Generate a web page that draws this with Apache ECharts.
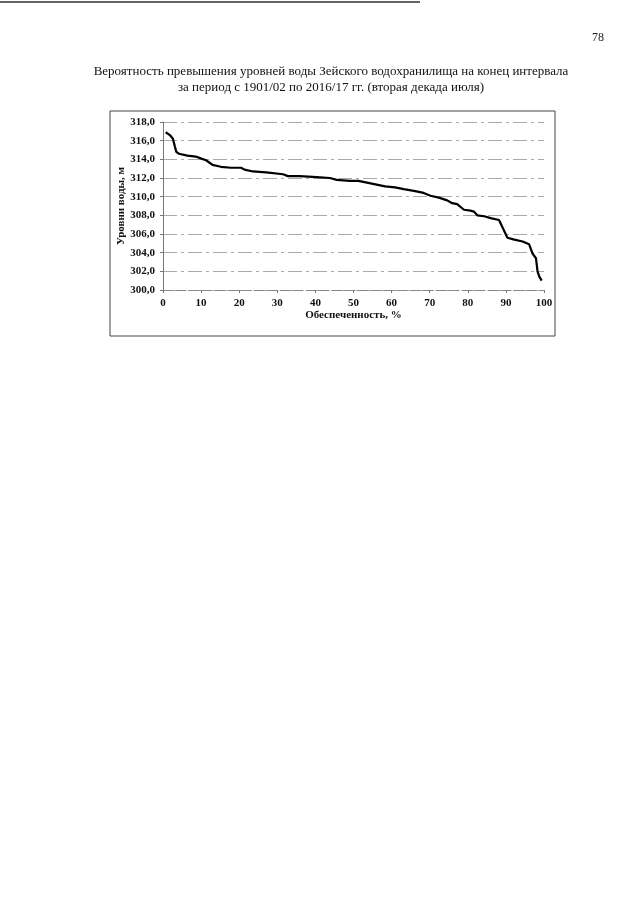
<!DOCTYPE html>
<html>
<head>
<meta charset="utf-8">
<script src="https://cdn.jsdelivr.net/npm/echarts@6/dist/echarts.min.js"></script>
<style>
  html, body {margin: 0; padding: 0; background: #fff;}
  #chart {width: 640px; height: 905px;}
</style>
</head>
<body>
<div id="chart"></div>
<script>
// обеспеченность, % и уровни воды, м
const probability = [0.7, 1.8, 2.6, 3.1, 3.5, 4.2, 6.4, 8.6, 9.9, 11.3, 13.0, 15.2, 17.8, 20.5, 21.4, 23.6,
  27.1, 31.5, 32.8, 35.9, 40.3, 43.8, 45.6, 49.1, 51.3, 54.8, 58.3, 60.9, 63.2, 66.2, 68.4, 70.2,
  72.4, 74.6, 75.9, 77.2, 79.0, 80.7, 81.6, 82.5, 84.3, 86.0, 88.2, 89.0, 90.4, 92.2, 94.4, 96.1,
  97.0, 97.9, 98.3, 98.8, 99.4];
const levels = [316.9, 316.6, 316.2, 315.4, 314.8, 314.6, 314.4, 314.3, 314.1, 313.9, 313.4, 313.2, 313.1, 313.1, 312.9, 312.7,
  312.6, 312.4, 312.2, 312.2, 312.1, 312.0, 311.8, 311.7, 311.7, 311.4, 311.1, 311.0, 310.8, 310.6, 310.4, 310.1,
  309.9, 309.6, 309.3, 309.2, 308.6, 308.5, 308.4, 308.0, 307.9, 307.7, 307.5, 306.8, 305.6, 305.4, 305.2, 304.9,
  303.9, 303.4, 302.0, 301.4, 301.0];
const titleLines = [
  'Вероятность превышения уровней воды Зейского водохранилища на конец интервала',
  'за период с 1901/02 по 2016/17 гг. (вторая декада июля)'
];

const serif = '"Liberation Serif", "DejaVu Serif", serif';
const myChart = echarts.init(document.getElementById('chart'));

myChart.setOption({
  backgroundColor: '#fff',
  animation: false,
  graphic: [
    {type: 'line', shape: {x1: 0, y1: 2, x2: 420, y2: 2}, style: {stroke: '#333', lineWidth: 1.5}},
    {type: 'text', left: 592, top: 32, style: {text: '78', font: '12px ' + serif, fill: '#222'}},
    {type: 'text', x: 331, y: 72, style: {text: titleLines[0], font: '13px ' + serif, fill: '#111',
      align: 'center', verticalAlign: 'middle'}},
    {type: 'text', x: 331, y: 88, style: {text: titleLines[1], font: '13px ' + serif, fill: '#111',
      align: 'center', verticalAlign: 'middle'}},
    {type: 'rect', shape: {x: 110, y: 111, width: 445, height: 225},
      style: {fill: 'none', stroke: '#444', lineWidth: 1}}
  ],
  grid: {left: 163, right: 96, top: 122, bottom: 615},
  xAxis: {
    type: 'value', min: 0, max: 100, interval: 10,
    name: 'Обеспеченность, %', nameLocation: 'middle', nameGap: 20, nameMoveOverlap: false,
    nameTextStyle: {fontFamily: serif, fontWeight: 'bold', fontSize: 11, color: '#111'},
    axisLine: {lineStyle: {color: '#888', type: [10, 3]}},
    axisTick: {show: true, length: 3, lineStyle: {color: '#777'}},
    axisLabel: {fontFamily: serif, fontWeight: 'bold', fontSize: 11, color: '#111', margin: 8},
    splitLine: {show: false}
  },
  yAxis: {
    type: 'value', min: 300, max: 318, interval: 2,
    name: 'Уровни воды, м', nameLocation: 'middle', nameGap: 36, nameRotate: 90, nameMoveOverlap: false,
    nameTextStyle: {fontFamily: serif, fontWeight: 'bold', fontSize: 11, color: '#111'},
    axisLine: {show: true, lineStyle: {color: '#777'}},
    axisTick: {show: true, length: 3, lineStyle: {color: '#777'}},
    axisLabel: {fontFamily: serif, fontWeight: 'bold', fontSize: 11, color: '#111', margin: 8,
      formatter: v => v.toFixed(1).replace('.', ',')},
    splitLine: {lineStyle: {color: '#aaa', type: [14, 4, 3, 4]}}
  },
  series: [{
    type: 'line',
    data: probability.map((p, i) => [p, levels[i]]),
    showSymbol: false,
    lineStyle: {color: '#000', width: 2.2}
  }]
});
</script>
</body>
</html>
